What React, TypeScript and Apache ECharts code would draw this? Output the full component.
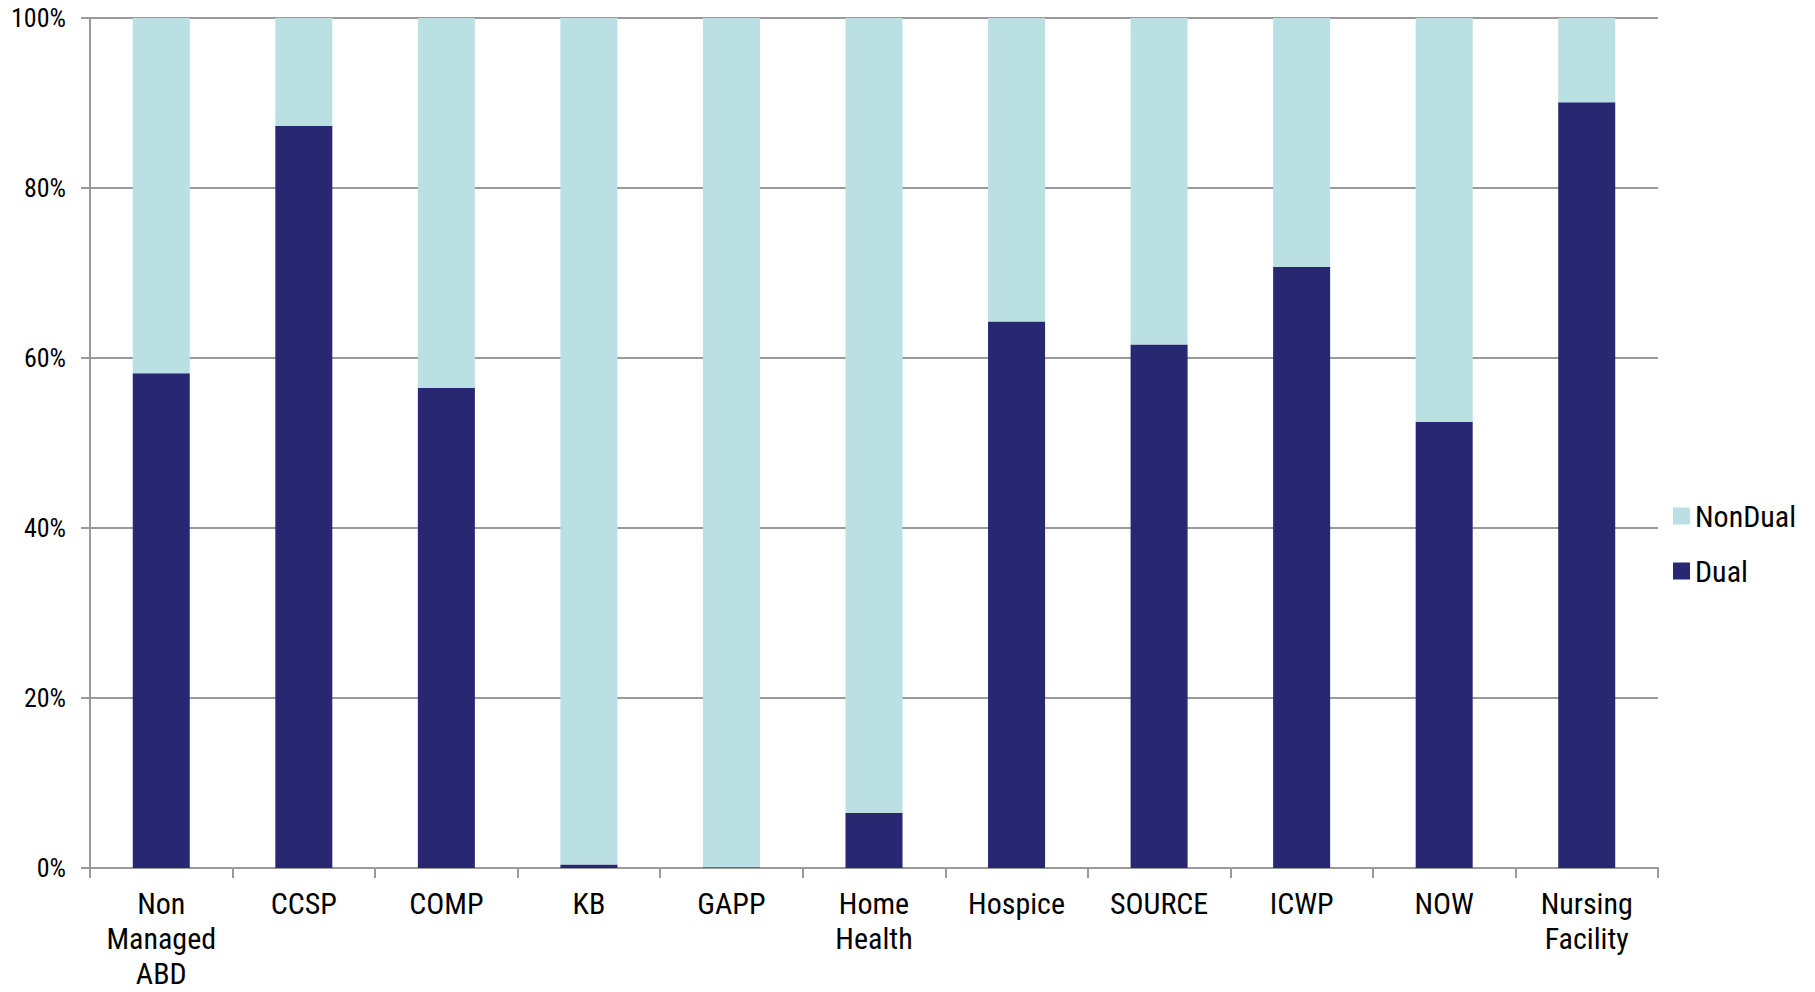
import React, { useEffect, useRef } from "react";
import * as echarts from "echarts";

// Programme categories along the x axis
const categories: string[] = [
  "Non\nManaged\nABD",
  "CCSP",
  "COMP",
  "KB",
  "GAPP",
  "Home\nHealth",
  "Hospice",
  "SOURCE",
  "ICWP",
  "NOW",
  "Nursing\nFacility",
];

// Share of members (%) by eligibility type
const dualShare: number[] = [58.2, 87.3, 56.5, 0.4, 0.1, 6.5, 64.3, 61.6, 70.7, 52.5, 90.1];
const nonDualShare: number[] = [41.8, 12.7, 43.5, 99.6, 99.9, 93.5, 35.7, 38.4, 29.3, 47.5, 9.9];

const seriesNames: string[] = ["NonDual", "Dual"];

const FONT = "'Liberation Sans Narrow', 'Arial Narrow', 'Roboto Condensed', 'Liberation Sans', sans-serif";
const DUAL_COLOR = "#282872";
const NONDUAL_COLOR = "#BBE0E3";
const GRID_GRAY = "#9a9a9a";

export default function App() {
  const ref = useRef<HTMLDivElement>(null);

  useEffect(() => {
    if (!ref.current) return;
    const chart = echarts.init(ref.current, undefined, { renderer: "svg" });
    chart.setOption({
      animation: false,
      backgroundColor: "#ffffff",
      grid: {
        left: 90,
        right: 157,
        top: 18,
        bottom: 124,
        containLabel: false,
        outerBoundsMode: "none",
      },
      legend: {
        data: seriesNames,
        orient: "vertical",
        left: 1668,
        top: 496,
        itemWidth: 17,
        itemHeight: 17,
        itemGap: 25,
        icon: "rect",
        textStyle: { fontFamily: FONT, fontSize: 30, lineHeight: 30, color: "#000" },
      },
      xAxis: {
        type: "category",
        data: categories,
        axisLine: { show: true, lineStyle: { color: GRID_GRAY, width: 2 } },
        axisTick: { show: true, alignWithLabel: false, length: 10, lineStyle: { color: GRID_GRAY, width: 2 } },
        axisLabel: {
          interval: 0,
          margin: 18,
          fontFamily: FONT,
          fontSize: 30,
          lineHeight: 35,
          color: "#000",
        },
      },
      yAxis: {
        type: "value",
        min: 0,
        max: 100,
        interval: 20,
        axisLine: { show: true, lineStyle: { color: GRID_GRAY, width: 2 } },
        axisTick: { show: true, inside: false, length: 9, lineStyle: { color: GRID_GRAY, width: 2 } },
        splitLine: { show: true, lineStyle: { color: GRID_GRAY, width: 2 } },
        axisLabel: {
          formatter: "{value}%",
          margin: 24,
          fontFamily: FONT,
          fontSize: 26,
          color: "#000",
        },
      },
      series: [
        {
          name: "Dual",
          type: "bar",
          stack: "share",
          barWidth: "40%",
          data: dualShare,
          itemStyle: { color: DUAL_COLOR },
        },
        {
          name: "NonDual",
          type: "bar",
          stack: "share",
          barWidth: "40%",
          data: nonDualShare,
          itemStyle: { color: NONDUAL_COLOR },
        },
      ],
    });
    return () => chart.dispose();
  }, []);

  return (
    <div
      ref={ref}
      style={{ position: "fixed", left: 0, top: 0, width: 1815, height: 992, background: "#fff" }}
    />
  );
}
